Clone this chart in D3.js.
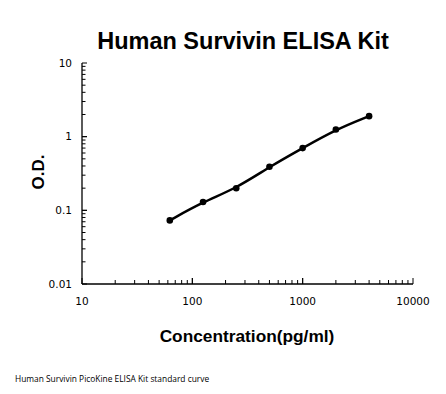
<!DOCTYPE html>
<html>
<head>
<meta charset="utf-8">
<script src="https://cdn.jsdelivr.net/npm/d3@7"></script>
<style>
  body { margin: 0; background: #fff; }
  svg text { fill: #000; }
  .tick-label { font-family: "DejaVu Sans", Verdana, sans-serif; font-size: 10.5px; }
</style>
</head>
<body>
<div id="chart"></div>
<script>
// standard curve readings
var concentration = [62.5, 125, 250, 500, 1000, 2000, 4000];
var od = [0.073, 0.13, 0.199, 0.39, 0.70, 1.25, 1.9];
var xTickValues = [10, 100, 1000, 10000];
var yTickValues = [0.01, 0.1, 1, 10];

var width = 446, height = 394;
var plotLeft = 82, plotRight = 413, plotTop = 63, plotBottom = 284;

var svg = d3.select("#chart").append("svg")
    .attr("width", width)
    .attr("height", height);

var x = d3.scaleLog().domain([10, 10000]).range([plotLeft, plotRight]);
var y = d3.scaleLog().domain([0.01, 10]).range([plotBottom, plotTop]);

// minor ticks for each decade
function minors(lo, hi) {
    var out = [];
    for (var d = lo; d < hi * 0.999; d *= 10) {
        for (var k = 1; k <= 10; k++) out.push(d * k);
    }
    return out;
}
var xMinor = minors(10, 10000);
var yMinor = minors(0.01, 10);

// axes lines
svg.append("line").attr("x1", plotLeft).attr("x2", plotRight).attr("y1", plotBottom).attr("y2", plotBottom)
    .attr("stroke", "#000").attr("stroke-width", 1.3);
svg.append("line").attr("x1", plotLeft).attr("x2", plotLeft).attr("y1", plotTop).attr("y2", plotBottom)
    .attr("stroke", "#000").attr("stroke-width", 1.3);

function isMajor(vals, d) {
    return vals.some(function (v) { return Math.abs(v / d - 1) < 1e-6; });
}

svg.selectAll("line.xtick")
    .data(xMinor)
    .enter().append("line")
    .attr("class", "xtick")
    .attr("x1", function (d) { return x(d); })
    .attr("x2", function (d) { return x(d); })
    .attr("y1", plotBottom)
    .attr("y2", function (d) { return isMajor(xTickValues, d) ? plotBottom - 6 : plotBottom - 4; })
    .attr("stroke", "#000");

svg.selectAll("line.ytick")
    .data(yMinor)
    .enter().append("line")
    .attr("class", "ytick")
    .attr("y1", function (d) { return y(d); })
    .attr("y2", function (d) { return y(d); })
    .attr("x1", plotLeft)
    .attr("x2", function (d) { return isMajor(yTickValues, d) ? plotLeft + 5 : plotLeft + 3.5; })
    .attr("stroke", "#000");

svg.selectAll("text.xlab")
    .data(xTickValues)
    .enter().append("text")
    .attr("class", "tick-label")
    .attr("x", function (d) { return x(d); })
    .attr("y", plotBottom + 21)
    .attr("text-anchor", "middle")
    .text(function (d) { return d; });

svg.selectAll("text.ylab")
    .data(yTickValues)
    .enter().append("text")
    .attr("class", "tick-label")
    .attr("x", plotLeft - 10)
    .attr("y", function (d) { return y(d); })
    .attr("dy", ".35em")
    .attr("text-anchor", "end")
    .text(function (d) { return d; });

// curve
var pts = concentration.map(function (c, i) { return [c, od[i]]; });
var line = d3.line()
    .x(function (d) { return x(d[0]); })
    .y(function (d) { return y(d[1]); })
    .curve(d3.curveBasis);

svg.append("path")
    .datum(pts)
    .attr("d", line)
    .attr("fill", "none")
    .attr("stroke", "#000")
    .attr("stroke-width", 2.5);

svg.selectAll("circle.pt")
    .data(pts)
    .enter().append("circle")
    .attr("cx", function (d) { return x(d[0]); })
    .attr("cy", function (d) { return y(d[1]); })
    .attr("r", 3.3)
    .attr("fill", "#000");

// titles
svg.append("text")
    .attr("x", 243).attr("y", 49)
    .attr("text-anchor", "middle")
    .style("font-family", "Liberation Sans, Arial, sans-serif")
    .style("font-weight", "bold")
    .style("font-size", "23.5px")
    .text("Human Survivin ELISA Kit");

svg.append("text")
    .attr("transform", "translate(44,172) rotate(-90)")
    .attr("text-anchor", "middle")
    .style("font-family", "Liberation Sans, Arial, sans-serif")
    .style("font-weight", "bold")
    .style("font-size", "17px")
    .text("O.D.");

svg.append("text")
    .attr("x", 247).attr("y", 342)
    .attr("text-anchor", "middle")
    .style("font-family", "Liberation Sans, Arial, sans-serif")
    .style("font-weight", "bold")
    .style("font-size", "17.3px")
    .text("Concentration(pg/ml)");

svg.append("text")
    .attr("x", 15).attr("y", 382)
    .style("font-family", "Open Sans, sans-serif")
    .style("font-size", "8.4px")
    .text("Human Survivin PicoKine ELISA Kit standard curve");
</script>
</body>
</html>
